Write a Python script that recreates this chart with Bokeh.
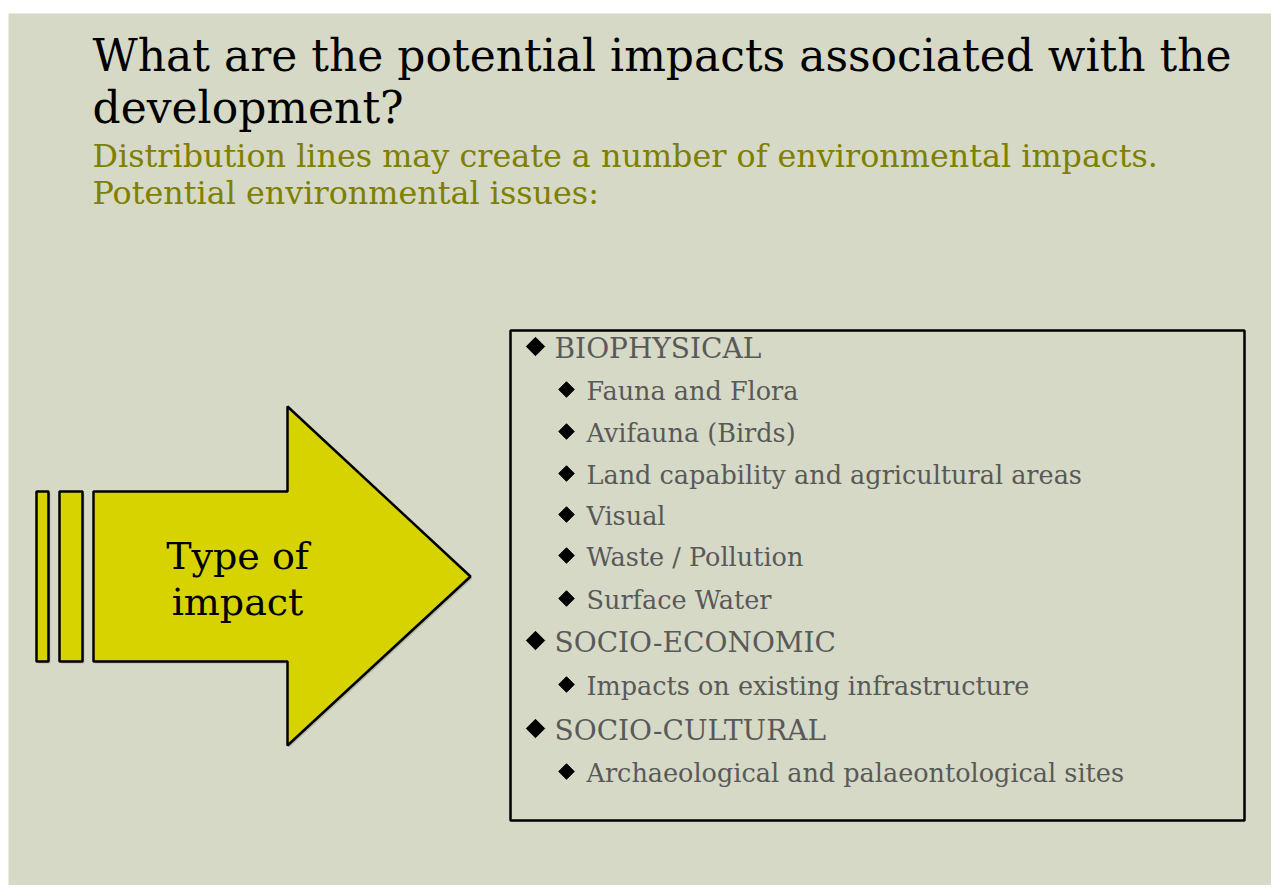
import numpy as np
from bokeh.plotting import figure
from bokeh.models import Range1d
from bokeh.core.properties import value
from bokeh.embed import file_html
from bokeh.resources import INLINE

title_lines = ["What are the potential impacts associated with the", "development?"]
subtitle_lines = ["Distribution lines may create a number of environmental impacts.",
                  "Potential environmental issues:"]
arrow_label = ["Type of", "impact"]
items = ["BIOPHYSICAL", "Fauna and Flora", "Avifauna (Birds)",
         "Land capability and agricultural areas", "Visual", "Waste / Pollution",
         "Surface Water", "SOCIO-ECONOMIC", "Impacts on existing infrastructure",
         "SOCIO-CULTURAL", "Archaeological and palaeontological sites"]
levels = [1, 2, 2, 2, 2, 2, 2, 1, 2, 1, 2]
row_y = [356, 398, 440, 482, 523, 564, 607, 650, 693, 738, 780]

FONT = "DejaVu Serif"
BG = "#D6D9C6"
YEL = "#D6D300"

W, H = 1271, 885
p = figure(width=W, height=H, x_range=Range1d(0, W), y_range=Range1d(H, 0),
           output_backend="svg", toolbar_location=None, min_border=0)
p.axis.visible = False
p.grid.visible = False
p.outline_line_color = None
p.background_fill_color = "white"
p.border_fill_color = "white"


def put_text(x, y, t, fs, color, align="left"):
    # y is the wanted baseline; compensate for renderer baseline placement
    p.text(x=[x], y=[y - 0.3 * fs], text=[t], text_font=value(FONT),
           text_font_size=f"{fs}px", text_color=color, text_align=align,
           text_baseline="alphabetic")


# slide background
p.quad(left=[8], right=[W], top=[13], bottom=[H], fill_color=BG, line_color=None)

# title
for i, t in enumerate(title_lines):
    put_text(92, [68, 120][i], t, 44, "black")
for i, t in enumerate(subtitle_lines):
    put_text(92, [165, 202][i], t, 31.8, "#7F7F00")

# arrow
for (l, r) in [(36, 48), (59, 82)]:
    p.quad(left=[l + 2], right=[r + 2], top=[493], bottom=[663], fill_color="#9a9a8a",
           fill_alpha=0.5, line_color=None)
    p.quad(left=[l], right=[r], top=[491], bottom=[661], fill_color=YEL,
           line_color="black", line_width=2.5)
ax = [93, 287, 287, 470, 287, 287, 93]
ay = [491, 491, 406, 576, 745, 661, 661]
p.patch([v + 2 for v in ax], [v + 2 for v in ay], fill_color="#9a9a8a", fill_alpha=0.5,
        line_color=None)
p.patch(ax, ay, fill_color=YEL, line_color="black", line_width=2.5)
for i, t in enumerate(arrow_label):
    put_text(237, [567, 613][i], t, 38, "black", align="center")

# box
p.quad(left=[510], right=[1244], top=[330], bottom=[820], fill_color=None,
       line_color="black", line_width=2.5)

for t, lv, y in zip(items, levels, row_y):
    if lv == 1:
        bx, tx, fs, ms, dy = 535, 554, 28, 13, 10
    else:
        bx, tx, fs, ms, dy = 566, 586, 25.5, 11, 9
    p.scatter(x=[bx], y=[y - dy], marker="square", angle=np.pi / 4,
              size=ms, fill_color="black", line_color="black")
    put_text(tx, y, t, fs, "#595959")

open("out.html", "w").write(file_html(p, INLINE))
